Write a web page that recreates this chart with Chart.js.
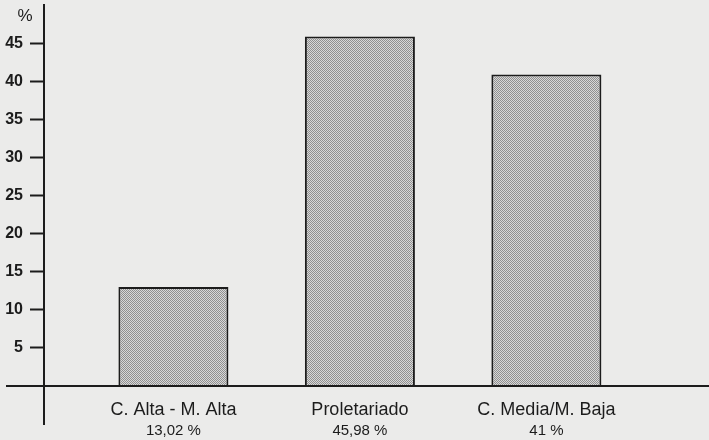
<!DOCTYPE html>
<html>
<head>
<meta charset="utf-8">
<script src="https://cdn.jsdelivr.net/npm/chart.js@4/dist/chart.umd.min.js"></script>
<style>
  body { margin: 0; background: #ebebea; }
  #wrap { width: 709px; height: 440px; }
</style>
</head>
<body>
<div id="wrap"><canvas id="myChart" width="709" height="440"></canvas></div>
<script>
// data
const categories = ['C. Alta - M. Alta', 'Proletariado', 'C. Media/M. Baja'];
const shareLabels = ['13,02 %', '45,98 %', '41 %'];
const values = [13.02, 45.98, 41];
const yTicks = [5, 10, 15, 20, 25, 30, 35, 40, 45];
const unitLabel = '%';

const ink = '#1c1c1c';
const fontFamily = '"Liberation Sans", Arial, Helvetica, sans-serif';

// halftone grey like the printed bars
var pc = document.createElement('canvas');
pc.width = 2; pc.height = 2;
var pctx = pc.getContext('2d');
pctx.fillStyle = '#d8d8d8';
pctx.fillRect(0, 0, 2, 2);
pctx.fillStyle = '#909090';
pctx.fillRect(0, 0, 1, 1);
pctx.fillRect(1, 1, 1, 1);

var ctx = document.getElementById('myChart').getContext('2d');
var dots = ctx.createPattern(pc, 'repeat');

const xMin = 0.306, xMax = 3.872;

const axisExtras = {
    id: 'axisExtras',
    afterDatasetsDraw(chart) {
        const c = chart.ctx, a = chart.chartArea;
        c.save();
        c.strokeStyle = ink;
        c.lineWidth = 2;
        c.beginPath();
        c.moveTo(6, a.bottom);
        c.lineTo(a.right, a.bottom);
        c.moveTo(a.left, a.bottom);
        c.lineTo(a.left, 425);
        c.stroke();
        c.fillStyle = ink;
        c.font = '17px ' + fontFamily;
        c.textAlign = 'center';
        c.textBaseline = 'middle';
        c.fillText(unitLabel, 25, chart.scales.y.getPixelForValue(48.6));
        c.restore();
    }
};

var myChart = new Chart(ctx, {
    type: 'bar',
    data: {
        datasets: [{
            label: 'Clase social',
            data: values.map((v, i) => ({ x: i + 1, y: v })),
            backgroundColor: dots,
            borderColor: ink,
            borderWidth: 2,
            borderSkipped: 'bottom',
            categoryPercentage: 1,
            barPercentage: 0.59
        }]
    },
    options: {
        responsive: false,
        animation: false,
        layout: { padding: { top: 5, left: 0, right: 0, bottom: 0 } },
        plugins: {
            legend: { display: false },
            tooltip: { enabled: false }
        },
        scales: {
            x: {
                type: 'linear',
                position: 'bottom',
                offset: false,
                weight: 0,
                min: xMin,
                max: xMax,
                afterBuildTicks: s => { s.ticks = categories.map((c, i) => ({ value: i + 1 })); },
                afterFit: s => { s.height = 36; s.paddingLeft = 0; s.paddingRight = 0; },
                grid: { display: false, drawTicks: false },
                border: { display: false },
                ticks: {
                    autoSkip: false,
                    maxRotation: 0,
                    padding: 13,
                    color: ink,
                    font: { family: fontFamily, size: 18 },
                    callback: v => categories[v - 1]
                }
            },
            x2: {
                type: 'linear',
                position: 'bottom',
                offset: false,
                weight: 1,
                min: xMin,
                max: xMax,
                afterBuildTicks: s => { s.ticks = shareLabels.map((c, i) => ({ value: i + 1 })); },
                afterFit: s => { s.height = 18; s.paddingLeft = 0; s.paddingRight = 0; },
                grid: { display: false, drawTicks: false },
                border: { display: false },
                ticks: {
                    autoSkip: false,
                    maxRotation: 0,
                    padding: 0,
                    color: ink,
                    font: { family: fontFamily, size: 15 },
                    callback: v => shareLabels[v - 1]
                }
            },
            y: {
                min: 0,
                max: 50.13,
                afterBuildTicks: s => { s.ticks = yTicks.map(v => ({ value: v })); },
                afterFit: s => { s.width = 44; s.paddingTop = 0; s.paddingBottom = 0; },
                grid: {
                    drawOnChartArea: false,
                    drawTicks: true,
                    tickLength: 14,
                    tickWidth: 2,
                    tickColor: ink
                },
                border: { display: true, color: ink, width: 2 },
                ticks: {
                    padding: 7,
                    color: ink,
                    font: { family: fontFamily, size: 16, weight: 'bold' }
                }
            }
        }
    },
    plugins: [axisExtras]
});
</script>
</body>
</html>
